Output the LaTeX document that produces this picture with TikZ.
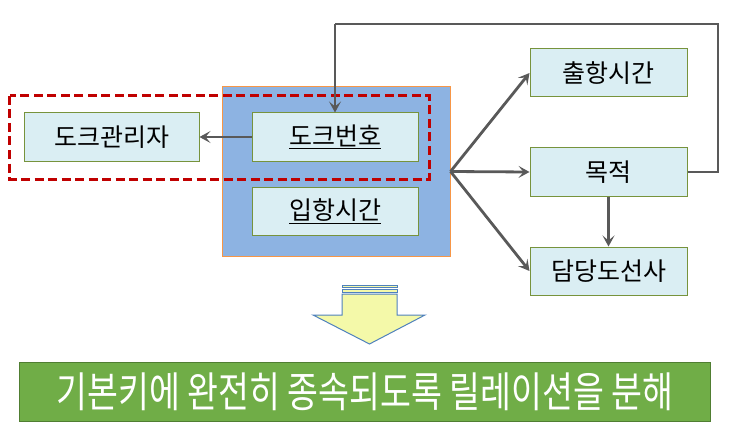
\documentclass[tikz,border=0pt]{standalone}
\usepackage{fontspec}
\newfontfamily\kr{Noto Sans CJK KR}
\usetikzlibrary{arrows.meta}
\definecolor{boxfill}{HTML}{DAEEF3}
\definecolor{boxline}{HTML}{77933C}
\definecolor{contfill}{HTML}{8DB3E2}
\definecolor{contline}{HTML}{F79646}
\definecolor{dashred}{HTML}{C00000}
\definecolor{conn}{HTML}{595959}
\definecolor{barfill}{HTML}{70AD47}
\definecolor{barline}{HTML}{507E32}
\definecolor{arrfill}{HTML}{F4F9A9}
\definecolor{arrline}{HTML}{4F81BD}
\tikzset{
  attr/.style={draw=boxline, fill=boxfill, line width=1pt, minimum width=166pt, minimum height=48pt, inner sep=0pt, font=\kr\fontsize{25}{25}\selectfont},
  wide/.style={attr, minimum width=175pt},
  rbox/.style={attr, minimum width=157pt},
  conn/.style={draw=conn, line width=2.8pt, -{Stealth[length=11pt,width=12pt,inset=5pt]}},
}
\begin{document}
\begin{tikzpicture}[x=1pt,y=-1pt]
\useasboundingbox (0,0) rectangle (736,433);
% container
\node[draw=contline, fill=contfill, line width=1pt, minimum width=228pt, minimum height=169pt, inner sep=0pt] (cont) at (336,171.5) {};
% dashed rectangle
\draw[dashred, line width=3pt, dash pattern=on 9pt off 4.5pt] (9.5,96) rectangle (429,179);
% attribute boxes
\node[wide] (mgr) at (111.5,137) {도크관리자};
\node[attr] (dock) at (335,137) {\underline{도크번호}};
\node[attr] (arr) at (335,211.5) {\underline{입항시간}};
\node[rbox] (dep) at (608.5,73) {출항시간};
\node[rbox] (purp) at (608.5,172) {목적};
\node[rbox] (pilot) at (608.5,271) {담당도선사};
% connectors
\coordinate (fan) at (cont.east);
\draw[conn] (dock.west) -- (mgr.east);
\draw[conn] (fan) -- (dep.west);
\draw[conn] (fan) -- (purp.west);
\draw[conn] (fan) -- (pilot.west);
\draw[conn] (purp.south) -- (pilot.north);
\coordinate (c1) at (718,172);
\coordinate (c2) at (718,24);
\coordinate (c3) at (335,24);
\draw[conn, -, line join=miter] (purp.east) -- (c1) -- (c2) -- (c3);
\draw[conn] (c3) -- (dock.north);
% big down arrow (striped)
\draw[draw=arrline, fill=arrfill, line width=1pt] (342,285) rectangle (397,287.5);
\draw[draw=arrline, fill=arrfill, line width=1pt] (342,289.5) rectangle (397,292);
\draw[draw=arrline, fill=arrfill, line width=1pt, line join=miter]
  (342,294) -- (397,294) -- (397,315) -- (425,315) -- (369.5,344) -- (313,315) -- (342,315) -- cycle;
% result bar
\node[draw=barline, fill=barfill, line width=1pt, minimum width=691pt, minimum height=59pt, inner sep=0pt, text=white] (bar) at (365,391.5)
  {\scalebox{0.8}[1]{\kr\fontsize{42}{42}\selectfont 기본키에 완전히 종속되도록 릴레이션을 분해}};
\end{tikzpicture}
\end{document}
